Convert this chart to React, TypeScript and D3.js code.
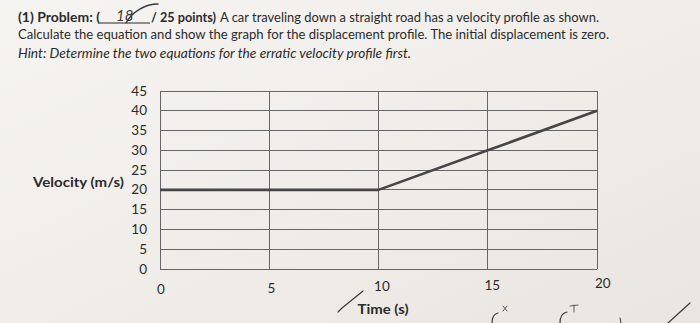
import React from "react";
import * as d3 from "d3";

const timeValues = [0, 5, 10, 15, 20];
const velocityValues = [20, 20, 20, 30, 40];
const yTicks = [0, 5, 10, 15, 20, 25, 30, 35, 40, 45];
const xTicks = [0, 5, 10, 15, 20];

const W = 700;
const H = 323;
const FONT = "Lato, 'Open Sans', sans-serif";
const INK = "#2b2b2b";

export default function App() {
  const x = d3.scaleLinear().domain([0, 20]).range([160, 597]);
  const y = d3.scaleLinear().domain([0, 45]).range([269, 91]);
  const pts = timeValues.map((t, i) => [t, velocityValues[i]] as [number, number]);
  const line = d3
    .line<[number, number]>()
    .x((d) => x(d[0]))
    .y((d) => y(d[1]));

  return (
    <svg
      width={W}
      height={H}
      viewBox={`0 0 ${W} ${H}`}
      style={{ position: "absolute", left: 0, top: 0, display: "block" }}
    >
      <defs>
        <linearGradient id="paper" x1="0" y1="0" x2="1" y2="1">
          <stop offset="0" stopColor="#f6f4f1" />
          <stop offset="0.6" stopColor="#efece8" />
          <stop offset="1" stopColor="#e9e6e1" />
        </linearGradient>
      </defs>
      <rect x={0} y={0} width={W} height={H} fill="url(#paper)" />

      {/* Header text */}
      <g fontFamily={FONT} fontSize={13} fill={INK}>
        <text x={18} y={22} fontWeight="bold" textLength={82} lengthAdjust="spacingAndGlyphs">
          (1) Problem: (
        </text>
        <line x1={100} y1={23} x2={150} y2={23} stroke={INK} strokeWidth={1} />
        <text x={151} y={22} fontWeight="bold" textLength={65} lengthAdjust="spacingAndGlyphs">
          / 25 points)
        </text>
        <text x={220} y={22} textLength={379} lengthAdjust="spacingAndGlyphs">
          A car traveling down a straight road has a velocity profile as shown.
        </text>
        <text x={18} y={39} textLength={591} lengthAdjust="spacingAndGlyphs">
          Calculate the equation and show the graph for the displacement profile. The initial displacement is zero.
        </text>
        <text x={18} y={58} fontStyle="italic" textLength={393} lengthAdjust="spacingAndGlyphs">
          Hint: Determine the two equations for the erratic velocity profile first.
        </text>
      </g>

      {/* Handwritten score */}
      <g fill="none" stroke="#3a3a3a" strokeWidth={1.3} strokeLinecap="round">
        <text
          x={116}
          y={21}
          fontFamily={FONT}
          fontSize={15}
          fontStyle="italic"
          fill="#3a3a3a"
          stroke="none"
        >
          18
        </text>
        <path d="M126,23 C132,12 145,4 158,4" />
      </g>

      {/* Grid */}
      <g stroke="#666" strokeWidth={1} shapeRendering="crispEdges">
        {yTicks.map((t) => (
          <line key={"h" + t} x1={x(0)} x2={x(20)} y1={y(t)} y2={y(t)} />
        ))}
        {xTicks.map((t) => (
          <line key={"v" + t} x1={x(t)} x2={x(t)} y1={y(0)} y2={y(45)} />
        ))}
      </g>

      {/* Velocity line */}
      <path d={line(pts) || ""} fill="none" stroke="#464646" strokeWidth={2.6} strokeLinejoin="round" />

      {/* Y tick labels */}
      <g fontFamily={FONT} fontSize={13.5} fill={INK} textAnchor="end">
        {yTicks.map((t) => (
          <text key={"yl" + t} x={147} y={y(t) + 4.5}>
            {t}
          </text>
        ))}
      </g>

      {/* X tick labels */}
      <g fontFamily={FONT} fontSize={13.5} fill={INK} textAnchor="middle">
        {xTicks.map((t, i) => (
          <text key={"xl" + t} x={x(t) + 1 + i * 1.2} y={294 - i * 1.5}>
            {t}
          </text>
        ))}
      </g>

      {/* Axis titles */}
      <text x={33} y={187} fontFamily={FONT} fontSize={13} fontWeight="bold" fill={INK} textLength={91} lengthAdjust="spacingAndGlyphs">
        Velocity (m/s)
      </text>
      <text x={383} y={314} fontFamily={FONT} fontSize={13} fontWeight="bold" fill={INK} textAnchor="middle" textLength={51} lengthAdjust="spacingAndGlyphs">
        Time (s)
      </text>

      {/* Handwritten marks at bottom */}
      <g fill="none" stroke="#3a3a3a" strokeWidth={1.2} strokeLinecap="round">
        <path d="M338,312 L342,308 L363,291" />
        <path d="M492,323 C492,317 494,314 498,313" />
        <path d="M503,306 L507,311 M507,306 L503,311" strokeWidth={0.8} />
        <path d="M560,323 C560,316 562,313 567,312" />
        <path d="M570,306 L578,305 M574,305 L574,312" strokeWidth={0.8} />
        <path d="M620,318 L621,323" strokeWidth={1} />
        <path d="M668,323 L690,303" />
      </g>
    </svg>
  );
}
